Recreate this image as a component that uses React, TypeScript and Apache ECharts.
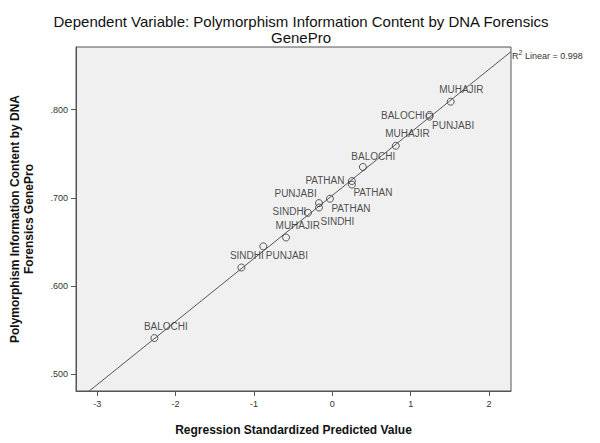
import React, { useEffect, useRef } from "react";
import * as echarts from "echarts";

// Data
const groups = [
  "BALOCHI", "SINDHI", "PUNJABI", "MUHAJIR", "SINDHI",
  "PUNJABI", "SINDHI", "PATHAN", "PATHAN", "PATHAN",
  "BALOCHI", "MUHAJIR", "BALOCHI", "PUNJABI", "MUHAJIR",
];
const predicted = [
  -2.27, -1.16, -0.88, -0.59, -0.31,
  -0.17, -0.17, -0.03, 0.25, 0.25,
  0.39, 0.81, 1.24, 1.24, 1.51,
];
const picValues = [
  0.541, 0.621, 0.645, 0.655, 0.683,
  0.694, 0.689, 0.699, 0.719, 0.715,
  0.735, 0.759, 0.794, 0.792, 0.809,
];
const xTicks = [-3, -2, -1, 0, 1, 2];
const yTicks = [0.5, 0.6, 0.7, 0.8];
const fitIntercept = 0.7027;
const fitSlope = 0.0715;
const rSquared = "0.998";

// Label placement (pixel offsets of label left/middle from the point)
const labelOffsets: [number, number][] = [
  [-10, -11], [-11, -12], [3, 10], [-10, -12], [-35, -1],
  [-44, -9], [2, 14], [2, 10], [-46, 0], [2, 8],
  [-11, -10], [-10, -12], [-48, 1], [3, 9], [-11, -12],
];

const X_MIN = -3.27;
const X_MAX = 2.28;
const Y_MIN = 0.481;
const Y_MAX = 0.871;
const SYM = 7;

export default function App() {
  const ref = useRef<HTMLDivElement>(null);
  useEffect(() => {
    if (!ref.current) return;
    const chart = echarts.init(ref.current, null, { renderer: "svg" });
    const font = "Liberation Sans, Arial, sans-serif";
    const points = predicted.map((x, i) => ({
      value: [x, picValues[i]],
      name: groups[i],
      label: {
        show: true,
        formatter: groups[i],
        position: [labelOffsets[i][0] + SYM / 2, labelOffsets[i][1] + SYM / 2],
        align: "left",
        verticalAlign: "middle",
        fontSize: 10,
        fontFamily: font,
        color: "#222",
      },
    }));
    chart.setOption({
      animation: false,
      backgroundColor: "#ffffff",
      title: {
        text: "Dependent Variable: Polymorphism Information Content by DNA Forensics\nGenePro",
        left: 296,
        top: 8,
        textAlign: "center",
        textStyle: {
          fontFamily: font,
          fontSize: 15,
          fontWeight: "normal",
          color: "#111",
          lineHeight: 16,
        },
      },
      grid: {
        left: 74,
        top: 47,
        width: 437,
        height: 344,
        show: true,
        backgroundColor: "#f0f0f0",
        borderColor: "#555",
        borderWidth: 1,
      },
      xAxis: {
        type: "value",
        min: X_MIN,
        max: X_MAX,
        name: "Regression Standardized Predicted Value",
        nameLocation: "middle",
        nameGap: 33,
        nameTextStyle: { fontFamily: font, fontSize: 12, fontWeight: "bold", color: "#111" },
        splitLine: { show: false },
        axisLine: { show: true, onZero: false, lineStyle: { color: "#555" } },
        axisTick: { show: true, length: 5, inside: false, customValues: xTicks, lineStyle: { color: "#555" } },
        axisLabel: {
          customValues: xTicks,
          margin: 8,
          fontSize: 9,
          fontFamily: font,
          color: "#333",
          formatter: (v: number) => String(v),
        },
      },
      yAxis: {
        type: "value",
        min: Y_MIN,
        max: Y_MAX,
        name: "Polymorphism Information Content by DNA\nForensics GenePro",
        nameLocation: "middle",
        nameGap: 40,
        nameRotate: 90,
        nameTextStyle: { fontFamily: font, fontSize: 12, fontWeight: "bold", color: "#111", lineHeight: 14 },
        splitLine: { show: false },
        axisLine: { show: true, onZero: false, lineStyle: { color: "#555" } },
        axisTick: { show: true, length: 5, customValues: yTicks, lineStyle: { color: "#555" } },
        axisLabel: {
          customValues: yTicks,
          margin: 8,
          fontSize: 9,
          fontFamily: font,
          color: "#333",
          formatter: (v: number) => v.toFixed(3).replace(/^0/, ""),
        },
      },
      graphic: [
        {
          type: "text",
          left: 512,
          top: 49,
          style: {
            text: "{r|R}{s|2}{r| Linear = " + rSquared + "}",
            rich: {
              r: { fontFamily: font, fontSize: 9, fill: "#333", verticalAlign: "bottom" },
              s: { fontFamily: font, fontSize: 7, fill: "#333", verticalAlign: "top", padding: [0, 0, 4, 0] },
            },
          },
        },
      ],
      series: [
        {
          type: "line",
          data: [
            [X_MIN, fitIntercept + fitSlope * X_MIN],
            [X_MAX, fitIntercept + fitSlope * X_MAX],
          ],
          symbol: "none",
          clip: true,
          lineStyle: { color: "#555", width: 1 },
          silent: true,
          z: 2,
        },
        {
          type: "scatter",
          data: points,
          symbol: "circle",
          symbolSize: SYM,
          itemStyle: { color: "transparent", borderColor: "#333", borderWidth: 1 },
          z: 3,
        },
      ],
    });
    return () => chart.dispose();
  }, []);
  return (
    <div
      ref={ref}
      style={{ position: "absolute", left: 0, top: 0, width: 600, height: 443 }}
    />
  );
}
